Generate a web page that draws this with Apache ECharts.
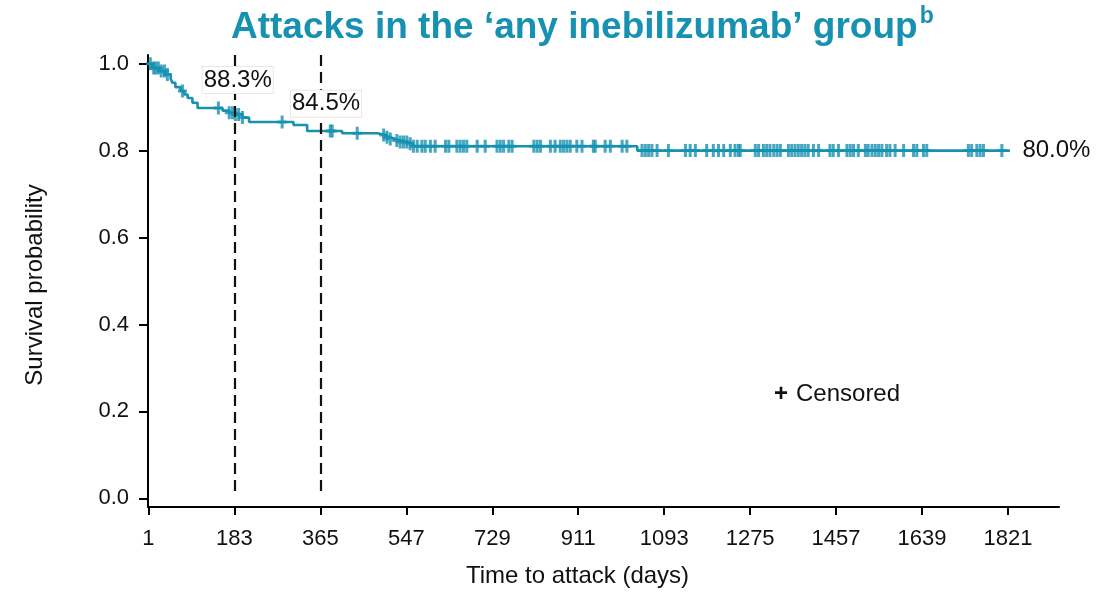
<!DOCTYPE html>
<html>
<head>
<meta charset="utf-8">
<script src="https://cdn.jsdelivr.net/npm/echarts@6/dist/echarts.min.js"></script>
<style>html,body{margin:0;padding:0;background:#fff}#c{width:1117px;height:596px}</style>
</head>
<body>
<div id="c"></div>
<script>
// Kaplan-Meier steps: day of step and survival after it
var stepDays = [0, 9, 24, 37, 48, 52, 58, 69, 77, 84, 94, 105, 158, 172, 181, 200, 214, 308, 337, 411, 486, 503, 513, 524, 534, 549, 560, 1036, 1825];
var stepSurvival = [1.000, 0.990, 0.983, 0.975, 0.965, 0.956, 0.946, 0.937, 0.929, 0.921, 0.910, 0.898, 0.892, 0.887, 0.883, 0.876, 0.866, 0.859, 0.845, 0.840, 0.836, 0.831, 0.827, 0.823, 0.820, 0.816, 0.810, 0.800, 0.800];
// censored observations (days)
var censorDays = [5, 12, 16, 22, 28, 35, 41, 73, 149, 172, 179, 185, 192, 200, 284, 386, 390, 443,
  499, 506, 513, 527, 534, 541, 548, 555, 562, 570, 580, 587, 598, 608, 630, 637, 654, 661, 668, 675,
  697, 714, 739, 746, 753, 764, 771, 817, 824, 831, 852, 862, 873, 880, 887, 894, 908, 919, 943, 947,
  968, 979, 1004, 1014, 1046, 1053, 1060, 1067, 1078, 1102, 1138, 1148, 1159, 1183, 1197, 1208, 1219,
  1233, 1243, 1250, 1254, 1286, 1293, 1303, 1310, 1317, 1325, 1332, 1339, 1356, 1363, 1370, 1377, 1384,
  1391, 1398, 1409, 1420, 1444, 1451, 1462, 1480, 1487, 1494, 1504, 1519, 1525, 1533, 1540, 1547, 1554,
  1564, 1571, 1582, 1600, 1621, 1628, 1642, 1649, 1737, 1744, 1755, 1762, 1769, 1808];
var xTicks = [1, 183, 365, 547, 729, 911, 1093, 1275, 1457, 1639, 1821];
var yTicks = [0, 0.2, 0.4, 0.6, 0.8, 1.0];
var landmarkDays = [183, 365];
var landmarkLabels = ['88.3%', '84.5%'];
var finalLabel = '80.0%';

var COLOR = '#1791b1';
var FONT = 'Liberation Sans, Arial, sans-serif';

function survivalAt(d) {
  var s = stepSurvival[0];
  for (var i = 0; i < stepDays.length; i++) { if (stepDays[i] <= d) s = stepSurvival[i]; }
  return s;
}
var kmData = stepDays.map(function (d, i) { return [d, stepSurvival[i]]; });
var censorData = censorDays.map(function (d) { return [d, survivalAt(d)]; });

var dashLines = landmarkDays.map(function (d) {
  return [{ coord: [d, 1.02] }, { coord: [d, 0.005] }];
});

var boxLabel = { show: true, position: 'inside', fontFamily: FONT, fontSize: 24, color: '#111', backgroundColor: '#fff', borderColor: '#e8e8e8', borderWidth: 1, padding: [1, 1] };

var chart = echarts.init(document.getElementById('c'), null, { renderer: 'canvas' });
chart.setOption({
  animation: false,
  backgroundColor: '#fff',
  title: {
    left: 226, top: 0,
    text: '{t|Attacks in the ‘any inebilizumab’ group}{s|b}',
    textStyle: {
      rich: {
        t: { fontFamily: FONT, fontWeight: 'bold', fontSize: 37, color: COLOR, lineHeight: 46 },
        s: { fontFamily: FONT, fontWeight: 'bold', fontSize: 23, color: COLOR, verticalAlign: 'top', lineHeight: 46, padding: [0, 0, 16, 2] }
      }
    }
  },
  grid: { left: 148, right: 58, top: 55, bottom: 89, containLabel: false },
  xAxis: {
    type: 'value', min: 0, max: 1929,
    name: 'Time to attack (days)', nameLocation: 'middle', nameGap: 57,
    nameTextStyle: { fontFamily: FONT, fontSize: 24, color: '#111', padding: [0, 52, 0, 0] },
    axisLine: { show: true, onZero: false, lineStyle: { color: '#000', width: 2 } },
    axisTick: { show: true, length: 8, lineStyle: { color: '#000', width: 2 }, customValues: xTicks },
    axisLabel: { fontFamily: FONT, fontSize: 22, color: '#111', margin: 21, customValues: xTicks, formatter: function (v) { return String(v); } },
    splitLine: { show: false }
  },
  yAxis: {
    type: 'value', min: -0.02, max: 1.02,
    name: 'Survival probability', nameLocation: 'middle', nameGap: 101,
    nameTextStyle: { fontFamily: FONT, fontSize: 24, color: '#111', padding: [0, 8, 0, 0] },
    axisLine: { show: true, onZero: false, lineStyle: { color: '#000', width: 2 } },
    axisTick: { show: true, length: 9, lineStyle: { color: '#000', width: 2 }, customValues: yTicks },
    axisLabel: { fontFamily: FONT, fontSize: 22, color: '#111', margin: 19, customValues: yTicks, formatter: function (v) { return v.toFixed(1); } },
    splitLine: { show: false }
  },
  series: [
    {
      type: 'line', step: 'end', data: kmData, showSymbol: false, clip: false,
      lineStyle: { color: COLOR, width: 2.6 }, z: 3,
      markLine: {
        silent: true, symbol: ['none', 'none'],
        lineStyle: { color: '#111', width: 2.2, type: [11, 6] },
        label: { show: false },
        data: dashLines
      },
      markPoint: {
        symbol: 'rect', symbolSize: 1, itemStyle: { color: 'rgba(0,0,0,0)' },
        data: [
          { coord: [190, 0.9625], label: Object.assign({ formatter: landmarkLabels[0] }, boxLabel) },
          { coord: [377, 0.908], label: Object.assign({ formatter: landmarkLabels[1] }, boxLabel) },
          { coord: [1825, 0.8], label: { show: true, formatter: finalLabel, position: 'right', distance: 12, fontFamily: FONT, fontSize: 24, color: '#111' } }
        ]
      }
    },
    {
      type: 'scatter', data: censorData, z: 4,
      symbol: 'path://M-1.5,-6.5h3v5h3v3h-3v5h-3v-5h-3v-3h3z',
      symbolSize: [9, 13],
      itemStyle: { color: COLOR }
    }
  ],
  graphic: [
    { type: 'text', left: 774, top: 382, style: { text: '+', font: 'bold 24px ' + FONT, fill: '#111' } },
    { type: 'text', left: 796, top: 382, style: { text: 'Censored', font: '24px ' + FONT, fill: '#111' } }
  ]
});
</script>
</body>
</html>
